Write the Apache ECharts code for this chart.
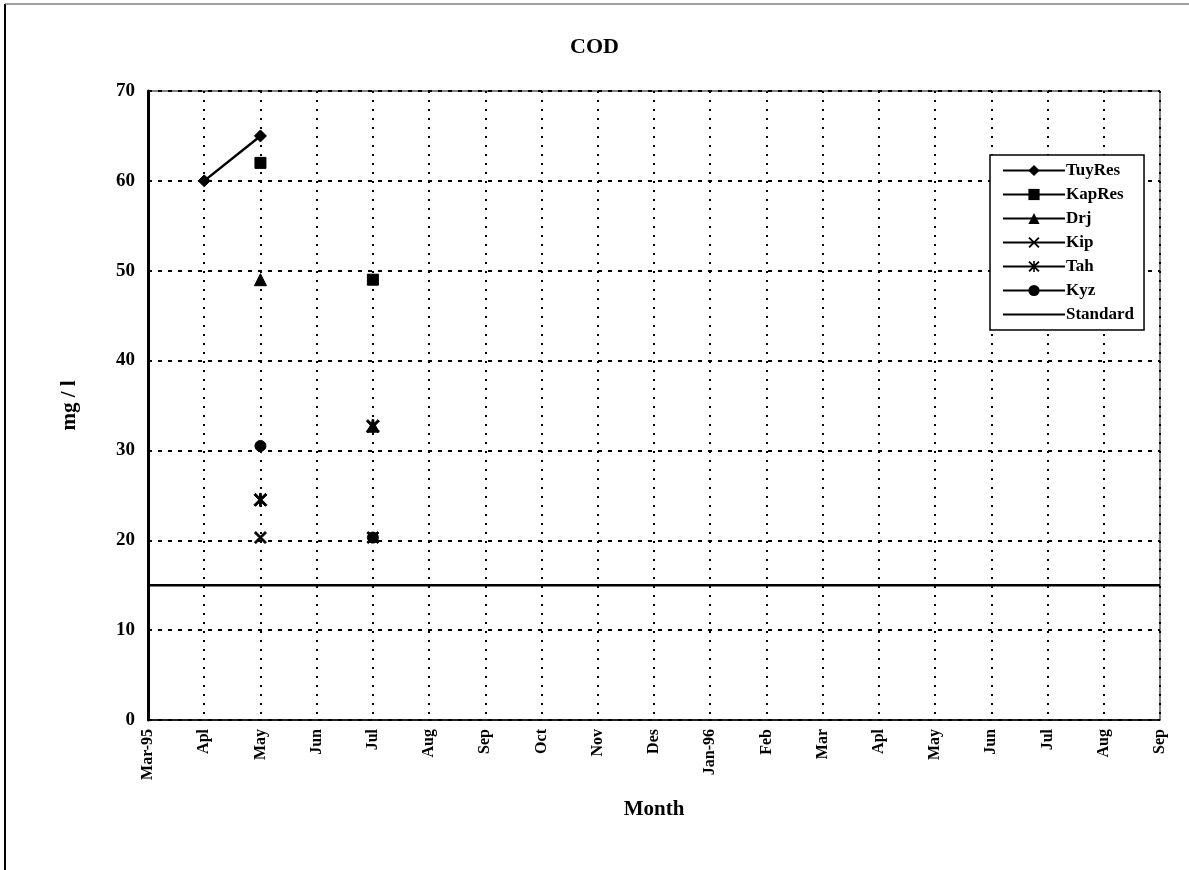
<!DOCTYPE html>
<html><head><meta charset="utf-8">
<script src="https://cdn.jsdelivr.net/npm/echarts@6/dist/echarts.min.js"></script>
<style>html,body{margin:0;padding:0;background:#fff}#c{width:1189px;height:870px}</style>
</head><body><div id="c"></div>
<script>
const categories = ['Mar-95','Apl','May','Jun','Jul','Aug','Sep','Oct','Nov','Des','Jan-96','Feb','Mar','Apl','May','Jun','Jul','Aug','Sep'];
const tuyRes = [null, 60, 65, null, null, null, null, null, null, null, null, null, null, null, null, null, null, null, null];
const kapRes = [null, null, 62, null, 49, null, null, null, null, null, null, null, null, null, null, null, null, null, null];
const drj    = [null, null, 49, null, 32.7, null, null, null, null, null, null, null, null, null, null, null, null, null, null];
const kip    = [null, null, 20.3, null, 20.3, null, null, null, null, null, null, null, null, null, null, null, null, null, null];
const tah    = [null, null, 24.5, null, 32.7, null, null, null, null, null, null, null, null, null, null, null, null, null, null];
const kyz    = [null, null, 30.5, null, 20.3, null, null, null, null, null, null, null, null, null, null, null, null, null, null];
const standard = [15, 15, 15, 15, 15, 15, 15, 15, 15, 15, 15, 15, 15, 15, 15, 15, 15, 15, 15];
const seriesNames = ['TuyRes','KapRes','Drj','Kip','Tah','Kyz','Standard'];

const XPATH = 'path://M0,1.2L1.2,0L5,3.8L8.8,0L10,1.2L6.2,5L10,8.8L8.8,10L5,6.2L1.2,10L0,8.8L3.8,5Z';
const STARPATH = 'path://M0,1.2L1.2,0L5,3.8L8.8,0L10,1.2L6.2,5L10,8.8L8.8,10L5,6.2L1.2,10L0,8.8L3.8,5ZM4.3,0L5.7,0L5.7,10L4.3,10Z';
const serif = 'Liberation Serif';

function mk(name, data, symbol, size) {
  return {
    name: name, type: 'line', data: data, symbol: symbol, symbolSize: size,
    showSymbol: true, connectNulls: false,
    lineStyle: {color: '#000', width: 2.5},
    itemStyle: {color: '#000', borderColor: '#000'},
    emphasis: {disabled: true}, animation: false
  };
}

const legendData = seriesNames.map(function (n) {
  if (n === 'Standard') return {name: n, itemStyle: {opacity: 0}};
  return {name: n};
});

const chart = echarts.init(document.getElementById('c'), null, {renderer: 'canvas'});
chart.setOption({
  backgroundColor: '#fff',
  animation: false,
  title: {text: 'COD', left: 'center', top: 31, textStyle: {fontFamily: serif, fontSize: 22, fontWeight: 'bold', color: '#000'}},
  grid: {left: 148, right: 29, top: 91, bottom: 150},
  legend: {
    orient: 'vertical', left: 990, top: 155, data: legendData,
    backgroundColor: '#fff', borderColor: '#000', borderWidth: 1.5,
    padding: [7, 10, 7, 12], itemGap: 7, itemWidth: 62, itemHeight: 14,
    textStyle: {fontFamily: serif, fontSize: 17, fontWeight: 'bold', color: '#000', padding: [0, 0, 0, -4]}
  },
  xAxis: {
    type: 'category', data: categories, boundaryGap: false,
    name: 'Month', nameLocation: 'middle', nameGap: 79,
    nameTextStyle: {fontFamily: serif, fontSize: 21, fontWeight: 'bold', color: '#000'},
    axisLine: {lineStyle: {color: '#000', width: 1.5}},
    axisTick: {show: false},
    axisLabel: {rotate: 90, interval: 0, fontFamily: serif, fontSize: 16, fontWeight: 'bold', color: '#000', margin: 9},
    splitLine: {show: true, lineStyle: {color: '#000', type: [2, 7], width: 2}}
  },
  yAxis: {
    type: 'value', min: 0, max: 70, interval: 10,
    name: 'mg / l', nameLocation: 'middle', nameGap: 68, nameRotate: 90,
    nameTextStyle: {fontFamily: serif, fontSize: 21, fontWeight: 'bold', color: '#000'},
    axisLine: {show: true, lineStyle: {color: '#000', width: 3}},
    axisTick: {show: false},
    axisLabel: {fontFamily: serif, fontSize: 19, fontWeight: 'bold', color: '#000', margin: 13},
    splitLine: {show: true, lineStyle: {color: '#000', type: [4, 6], width: 2}}
  },
  graphic: [
    {type: 'line', shape: {x1: 5, y1: 4, x2: 5, y2: 870}, style: {stroke: '#000', lineWidth: 2}},
    {type: 'line', shape: {x1: 5, y1: 4, x2: 1189, y2: 4}, style: {stroke: '#444', lineWidth: 1}},
    {type: 'rect', shape: {x: 148, y: 91, width: 1012, height: 629}, style: {fill: 'none', stroke: '#000', lineWidth: 1}, silent: true}
  ],
  series: [
    mk('TuyRes', tuyRes, 'diamond', 12),
    mk('KapRes', kapRes, 'rect', 11),
    mk('Drj', drj, 'triangle', 12),
    mk('Kip', kip, XPATH, 12),
    mk('Tah', tah, STARPATH, 13),
    mk('Kyz', kyz, 'circle', 11),
    {name: 'Standard', type: 'line', data: standard, symbol: 'none', showSymbol: false,
     lineStyle: {color: '#000', width: 2.5}, itemStyle: {color: '#000'}, emphasis: {disabled: true}}
  ]
});
</script></body></html>
